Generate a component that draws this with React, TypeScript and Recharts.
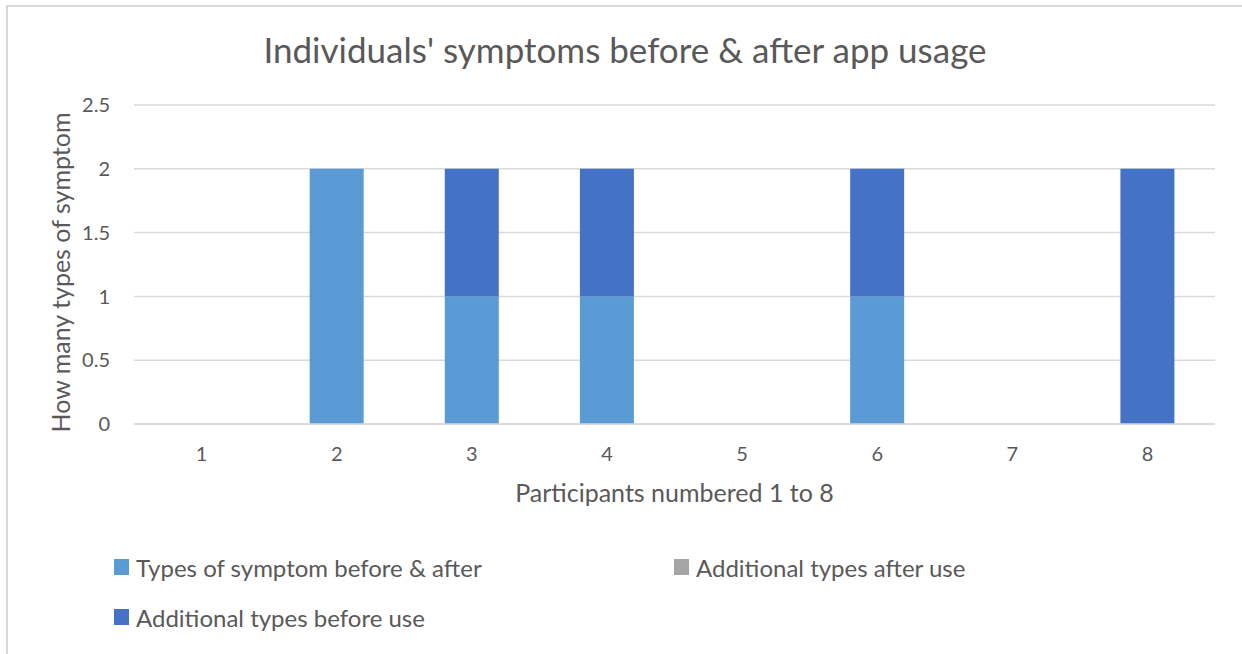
import { BarChart, Bar, XAxis, YAxis, CartesianGrid, Legend } from "recharts";

const participants = ["1", "2", "3", "4", "5", "6", "7", "8"];
const bothValues = [0, 2, 1, 1, 0, 1, 0, 0];
const afterValues = [0, 0, 0, 0, 0, 0, 0, 0];
const beforeValues = [0, 0, 1, 1, 0, 1, 0, 2];
const yTicks = [0, 0.5, 1, 1.5, 2, 2.5];

const seriesNames = {
  both: "Types of symptom before & after",
  after: "Additional types after use",
  before: "Additional types before use",
};
const legendOrder = [seriesNames.both, seriesNames.after, seriesNames.before];

const chartData = participants.map((p, i) => ({
  participant: p,
  both: bothValues[i],
  after: afterValues[i],
  before: beforeValues[i],
}));

const FONT = "Lato, 'Open Sans', sans-serif";
const TEXT = "#595959";

if (typeof document !== "undefined") {
  document.body.style.margin = "0";
}

function LegendBlock({ payload }: any) {
  const spots = [
    { left: 114, top: 552 },
    { left: 674, top: 552 },
    { left: 114, top: 602 },
  ];
  const items = [...(payload || [])].sort(
    (a: any, b: any) => legendOrder.indexOf(a.value) - legendOrder.indexOf(b.value)
  );
  return (
    <div>
      {items.map((item: any, i: number) => (
        <div
          key={item.value}
          style={{
            position: "absolute",
            left: spots[i].left,
            top: spots[i].top,
            display: "flex",
            alignItems: "center",
            whiteSpace: "nowrap",
            fontFamily: FONT,
            fontSize: 24,
            color: TEXT,
            height: 30,
          }}
        >
          <span
            style={{
              display: "inline-block",
              width: 15,
              height: 16,
              background: item.color,
              marginRight: 7,
            }}
          />
          {item.value}
        </div>
      ))}
    </div>
  );
}

function YTitle({ viewBox }: any) {
  const cx = 60;
  const cy = viewBox.y + viewBox.height / 2 + 8;
  return (
    <text
      x={cx}
      y={cy}
      transform={`rotate(-90 ${cx} ${cy})`}
      textAnchor="middle"
      dominantBaseline="central"
      fill={TEXT}
      fontSize={25}
      fontFamily={FONT}
    >
      How many types of symptom
    </text>
  );
}

export default function App() {
  return (
    <div
      style={{
        position: "relative",
        width: 1242,
        height: 654,
        overflow: "hidden",
        background: "#fff",
      }}
    >
      <div
        style={{
          position: "absolute",
          left: 6,
          top: 5,
          width: 1300,
          height: 700,
          borderLeft: "2px solid #D9D9D9",
          borderTop: "2px solid #D9D9D9",
        }}
      />
      <div
        style={{
          position: "absolute",
          left: 0,
          top: 29,
          width: 1250,
          textAlign: "center",
          fontFamily: FONT,
          fontSize: 35,
          color: TEXT,
          lineHeight: "40px",
        }}
      >
        Individuals' symptoms before &amp; after app usage
      </div>
      <div style={{ position: "absolute", left: 0, top: 0 }}>
        <BarChart
          width={1242}
          height={654}
          data={chartData}
          barCategoryGap="30%"
          margin={{ top: 105, right: 27, bottom: 146, left: 34 }}
        >
          <CartesianGrid vertical={false} stroke="#D9D9D9" strokeWidth={1.5} />
          <XAxis
            dataKey="participant"
            height={84}
            axisLine={{ stroke: "#D9D9D9", strokeWidth: 1.5 }}
            tickLine={false}
            tickSize={0}
            tickMargin={23}
            tick={{ fill: TEXT, fontSize: 20, fontFamily: FONT }}
            label={{
              value: "Participants numbered 1 to 8",
              position: "insideBottom",
              offset: 6,
              fill: TEXT,
              fontSize: 25,
              fontFamily: FONT,
            }}
          />
          <YAxis
            width={100}
            domain={[0, 2.5]}
            ticks={yTicks}
            axisLine={false}
            tickLine={false}
            tickSize={0}
            tickMargin={24}
            tick={{ fill: TEXT, fontSize: 20, fontFamily: FONT }}
            label={{ content: YTitle }}
          />
          <Legend
            content={<LegendBlock />}
            wrapperStyle={{ position: "absolute", left: 0, top: 0, width: 0, height: 0, overflow: "visible" }}
          />
          <Bar dataKey="both" name={seriesNames.both} stackId="a" fill="#5B9BD5" isAnimationActive={false} />
          <Bar dataKey="after" name={seriesNames.after} stackId="a" fill="#A5A5A5" isAnimationActive={false} />
          <Bar dataKey="before" name={seriesNames.before} stackId="a" fill="#4472C4" isAnimationActive={false} />
        </BarChart>
      </div>
    </div>
  );
}
